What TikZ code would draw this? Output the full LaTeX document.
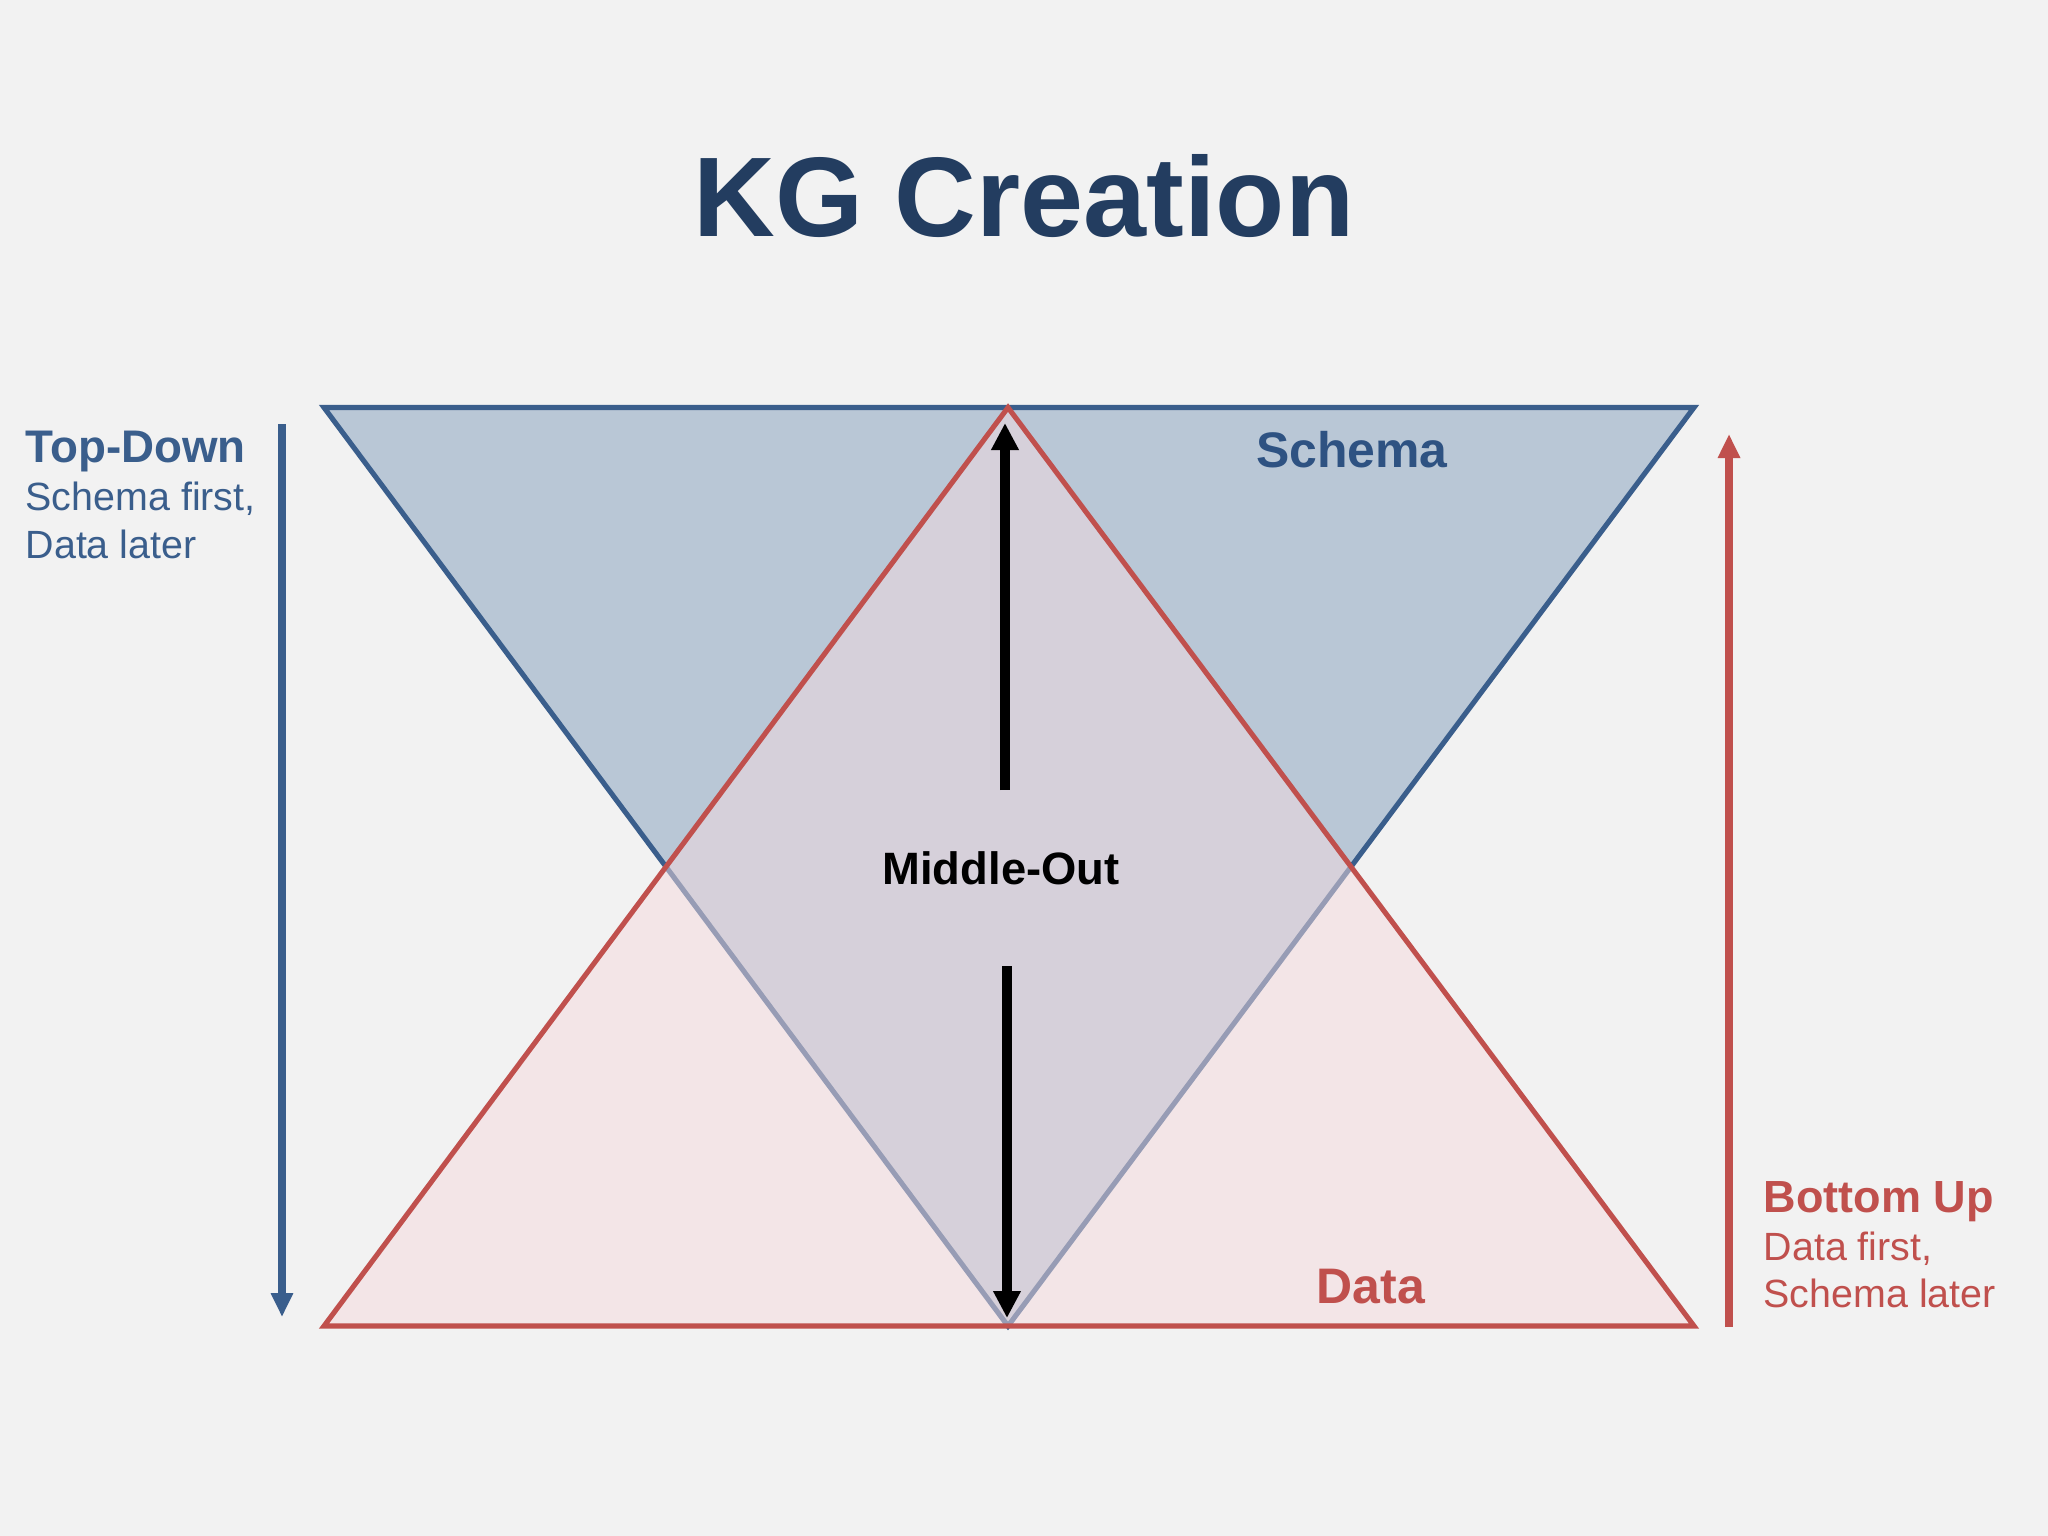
\documentclass[tikz,border=0pt]{standalone}
\usepackage{fontspec}
\setmainfont{Liberation Sans}
\usetikzlibrary{arrows.meta}
\definecolor{bgcol}{RGB}{242,242,242}
\definecolor{titlecol}{RGB}{35,61,96}
\definecolor{schemacol}{RGB}{58,94,140}
\definecolor{schematext}{RGB}{46,82,130}
\definecolor{schemafill}{RGB}{185,199,214}
\definecolor{datacol}{RGB}{192,80,77}
\definecolor{datafill}{RGB}{244,218,222}

\begin{document}
\begin{tikzpicture}[x=0.01cm, y=-0.01cm,
    lbl/.style={inner sep=0pt, anchor=base west},
    midarrow/.style={-{Triangle[length=0.27cm,width=0.26cm]}, line width=2.6pt, black},
    sidearrow/.style={-{Triangle[length=0.24cm,width=0.21cm]}, line width=2.3pt}]
\fill[bgcol] (0,0) rectangle (2048,1536);
\useasboundingbox (0,0) rectangle (2048,1536);
% corners of the two triangles
\coordinate (tl) at (324,407.5);
\coordinate (tr) at (1694,407.5);
\coordinate (tc) at (1008,407.5);
\coordinate (bl) at (324,1326);
\coordinate (br) at (1694,1326);
\coordinate (bc) at (1008,1326);
\draw[schemacol, line width=1.45pt, fill=schemafill] (tl) -- (tr) -- (bc) -- cycle;
\draw[datacol, line width=1.45pt, fill=datafill, fill opacity=0.5] (bl) -- (br) -- (tc) -- cycle;
% arrows
\coordinate (tdstart) at (282,424);
\coordinate (tdend) at (282,1317);
\coordinate (bustart) at (1729,1327);
\coordinate (buend) at (1729,434);
\coordinate (upstart) at (1005,790);
\coordinate (upend) at (1005,423);
\coordinate (dnstart) at (1007,966);
\coordinate (dnend) at (1007,1318);
\draw[sidearrow, schemacol] (tdstart) -- (tdend);
\draw[sidearrow, datacol] (bustart) -- (buend);
\draw[midarrow] (upstart) -- (upend);
\draw[midarrow] (dnstart) -- (dnend);
% texts
\node[anchor=base, inner sep=0pt, text=titlecol, font=\fontsize{32.2}{38}\selectfont\bfseries] (title) at (1024,236) {KG Creation};
\node[anchor=base, inner sep=0pt, text=schematext, font=\fontsize{14.2}{17}\selectfont\bfseries] (schema) at (1352,467) {Schema};
\node[anchor=base, inner sep=0pt, text=datacol, font=\fontsize{14.2}{17}\selectfont\bfseries] (data) at (1371,1303) {Data};
\node[anchor=base, inner sep=0pt, font=\fontsize{12.9}{15}\selectfont\bfseries] (middle) at (1001,884) {Middle-Out};
\node[lbl, text=schemacol, font=\fontsize{13}{15}\selectfont\bfseries] (td) at (25,462) {Top-Down};
\node[lbl, text=schemacol, font=\fontsize{11.2}{14}\selectfont] (td1) at (25,510) {Schema first,};
\node[lbl, text=schemacol, font=\fontsize{11.2}{14}\selectfont] (td2) at (25,558) {Data later};
\node[lbl, text=datacol, font=\fontsize{12.8}{15}\selectfont\bfseries] (bu) at (1763,1212) {Bottom Up};
\node[lbl, text=datacol, font=\fontsize{11.2}{14}\selectfont] (bu1) at (1763,1260) {Data first,};
\node[lbl, text=datacol, font=\fontsize{11.2}{14}\selectfont] (bu2) at (1763,1307) {Schema later};
\end{tikzpicture}
\end{document}
